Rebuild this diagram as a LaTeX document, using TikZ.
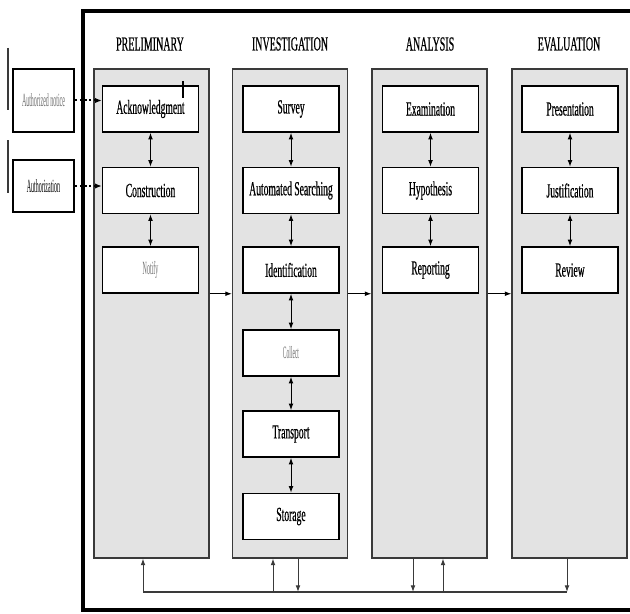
\documentclass[tikz,border=0pt]{standalone}
\usepackage{fontspec}
\setmainfont{Liberation Serif}
\newfontfamily\cond{Liberation Serif}[FakeStretch=0.48,FakeBold=0.5]
\newfontfamily\condh{Liberation Serif}[FakeStretch=0.5,FakeBold=0.5]
\newfontfamily\condt{Liberation Serif}[FakeStretch=0.32]
\usetikzlibrary{arrows.meta,calc}
\definecolor{colfill}{HTML}{E3E3E3}
\definecolor{colline}{HTML}{3A3A3A}
\definecolor{faint}{HTML}{6E6E6E}
\begin{document}
\begin{tikzpicture}[x=0.75pt,y=-0.75pt,
  col/.style={draw=colline,fill=colfill,line width=0.8pt,minimum width=115*0.75pt,minimum height=489*0.75pt,inner sep=0pt},
  stepbox/.style={draw=black,fill=white,line width=1.1pt,minimum width=96*0.75pt,minimum height=46*0.75pt,inner sep=0pt,font=\cond\fontsize{15pt}{16pt}\selectfont},
  hdr/.style={font=\condh\fontsize{15pt}{16pt}\selectfont},
  faintlabel/.style={font=\condt\fontsize{14pt}{15pt}\selectfont,text=faint},
  sidebox/.style={draw=black,fill=white,line width=1.9pt,minimum width=61*0.75pt,inner sep=0pt},
  tip/.style={-{Latex[length=5pt,width=3.6pt]}},
  dtip/.style={{Latex[length=5pt,width=3.6pt]}-{Latex[length=5pt,width=3.6pt]}},
  flow/.style={tip,line width=0.75pt,black},
  vlink/.style={dtip,line width=0.75pt,black},
  buslink/.style={tip,line width=0.75pt,colline},
  dotlink/.style={-{Latex[length=5pt,width=4pt]},line width=1.5pt,dotted,black}]
\useasboundingbox (0,0) rectangle (630,613);
\fill[white] (0,0) rectangle (630,613);
% outer frame
\draw[line width=3.6pt] (632,11) -- (83,11) -- (83,610) -- (632,610);
% left vertical marks
\draw[line width=1pt,colline] (8,48) -- (8,110);
\draw[line width=1pt,colline] (8,140) -- (8,193);
% columns
\node[col] (c1) at (151.5,313.5) {};
\node[col] (c2) at (290,313.5) {};
\node[col] (c3) at (429.5,313.5) {};
\node[col] (c4) at (569.5,313.5) {};
% headers
\node[hdr] (h1) at (150,44) {PRELIMINARY};
\node[hdr] (h2) at (290,44) {INVESTIGATION};
\node[hdr] (h3) at (430,44) {ANALYSIS};
\node[hdr] (h4) at (569,44) {EVALUATION};
% side boxes
\node[sidebox,minimum height=63*0.75pt] (notice) at (43.5,100.5) {\condt\fontsize{14pt}{15pt}\selectfont\color{faint}Authorized notice};
\node[sidebox,minimum height=52*0.75pt] (auth) at (43.5,186) {\condt\fontsize{14pt}{15pt}\selectfont Authorization};
% preliminary
\node[stepbox] (ack) at (150.5,109) {Acknowledgment};
\node[stepbox] (cons) at (150.5,190.5) {Construction};
\node[stepbox] (notify) at (150.5,270) {\condt\fontsize{14pt}{15pt}\selectfont\color{faint}Notify};
% investigation
\node[stepbox] (survey) at (291,109) {Survey};
\node[stepbox] (autos) at (291,190.5) {Automated Searching};
\node[stepbox] (ident) at (291,270) {Identification};
\node[stepbox] (collect) at (291,353) {\condt\fontsize{13pt}{14pt}\selectfont\color{faint}Collect};
\node[stepbox] (transp) at (291,434) {Transport};
\node[stepbox] (stor) at (291,516.5) {Storage};
% analysis
\node[stepbox] (exam) at (430.5,109) {Examination};
\node[stepbox] (hyp) at (430.5,190.5) {Hypothesis};
\node[stepbox] (rep) at (430.5,270) {Reporting};
% evaluation
\node[stepbox] (pres) at (570,109) {Presentation};
\node[stepbox] (just) at (570,190.5) {Justification};
\node[stepbox] (rev) at (570,270) {Review};
% small mark in acknowledgment box
\draw[line width=0.8pt] (183,81) -- (183,98);
% vertical links
\foreach \a/\b in {ack/cons,cons/notify,survey/autos,autos/ident,ident/collect,collect/transp,transp/stor,exam/hyp,hyp/rep,pres/just,just/rev}
  \draw[vlink] (\a.south) -- (\b.north);
% dotted inputs
\draw[dotlink] (notice.east) -- (notice.east -| ack.west);
\draw[dotlink] (auth.east) -- (auth.east -| cons.west);
% column to column
\draw[flow] (c1.east |- notify.south) -- (c2.west |- notify.south);
\draw[flow] (c2.east |- notify.south) -- (c3.west |- notify.south);
\draw[flow] (c3.east |- notify.south) -- (c4.west |- notify.south);
% bottom bus
\coordinate (b1) at (143,592);
\coordinate (b2) at (273,592);
\coordinate (b3) at (298,592);
\coordinate (b4) at (413,592);
\coordinate (b5) at (443,592);
\coordinate (b6) at (567,592);
\draw[line width=1.2pt,colline] (b1) -- (b6);
\draw[buslink] (b1) -- (b1 |- c1.south);
\draw[buslink] (b2) -- (b2 |- c2.south);
\draw[buslink] (b3 |- c2.south) -- (b3);
\draw[buslink] (b4 |- c3.south) -- (b4);
\draw[buslink] (b5) -- (b5 |- c3.south);
\draw[buslink] (b6 |- c4.south) -- (b6);
\end{tikzpicture}
\end{document}
